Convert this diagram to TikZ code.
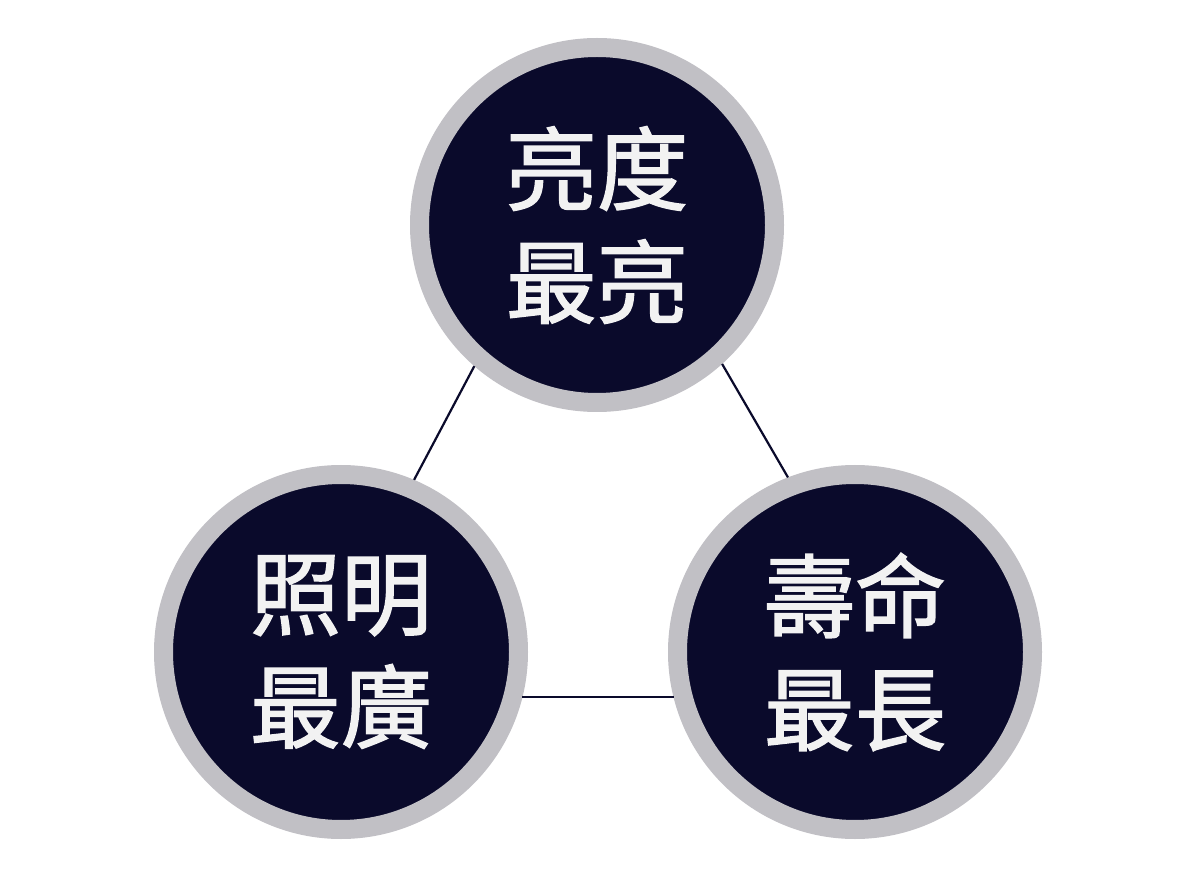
\documentclass[tikz,border=0pt]{standalone}
\usepackage{fontspec}
\newfontfamily\cjk[FakeBold=1.6]{Noto Sans CJK TC}
\definecolor{navyfill}{HTML}{0A0A2B}
\definecolor{ringgrey}{HTML}{C1C0C5}
\definecolor{textwhite}{HTML}{F2F2F2}
\begin{document}
\begin{tikzpicture}[x=1pt,y=-1pt,
  ball/.style={circle, fill=navyfill, draw=ringgrey, line width=19pt,
    minimum size=355pt, inner sep=0pt, align=center, text=textwhite,
    font=\cjk\fontsize{91}{113}\selectfont},
  link/.style={draw=navyfill, line width=2.2pt}]
\fill[white] (0,0) rectangle (1200,890);
\useasboundingbox (0,0) rectangle (1200,890);
\node[ball] (top) at (597,225) {亮度\\最亮};
\node[ball] (left) at (341,652) {照明\\最廣};
\node[ball] (right) at (855,652) {壽命\\最長};
\draw[link] (top.229.6) -- (left.67.8);
\draw[link] (top.312.4) -- (right.111);
\draw[link] (left.-14.2) -- (right.194.2);
\end{tikzpicture}
\end{document}
